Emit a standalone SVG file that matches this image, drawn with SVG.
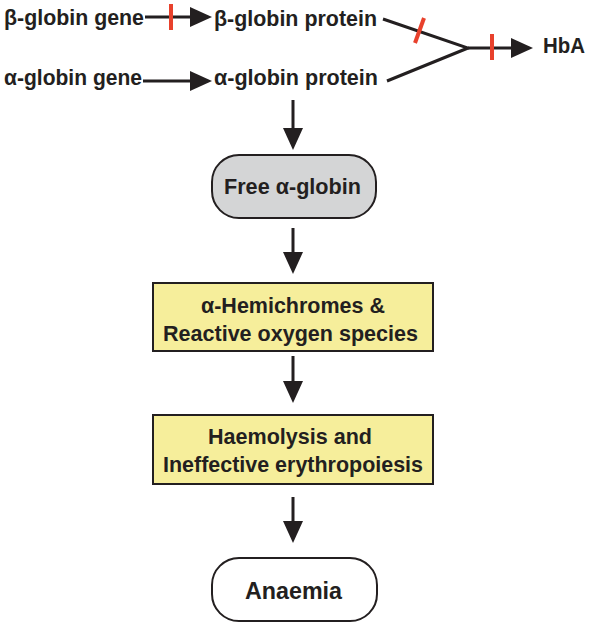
<svg xmlns="http://www.w3.org/2000/svg" width="590" height="625" viewBox="0 0 590 625">
<style>
text{font-family:"Liberation Sans",Arial,sans-serif;font-weight:bold;fill:#231f20}
.t{font-size:22px}
.b{font-size:22.5px;text-anchor:middle}
.c{stroke:#231f20;fill:none;stroke-width:3}
.r{stroke:#e8412c;stroke-width:4;fill:none}
.box{stroke:#231f20;stroke-width:2}
</style>
<defs>
<marker id="ah" viewBox="0 0 22 20" refX="12" refY="10" markerWidth="22" markerHeight="20" markerUnits="userSpaceOnUse" orient="auto"><path d="M0,0 L22,10 L0,20 z" fill="#231f20"/></marker>
</defs>
<rect width="590" height="625" fill="#fff"/>
<g id="connectors">
<line class="c" x1="145" y1="17" x2="202" y2="17" marker-end="url(#ah)"/>
<line class="c" x1="143" y1="81" x2="202" y2="81" marker-end="url(#ah)"/>
<polyline class="c" points="383,19 468,48 387,81" stroke-width="2.8"/>
<line class="c" x1="468" y1="48" x2="523" y2="48" marker-end="url(#ah)"/>
<line class="c" x1="293" y1="100" x2="293" y2="140" marker-end="url(#ah)"/>
<line class="c" x1="293" y1="228" x2="293" y2="264" marker-end="url(#ah)"/>
<line class="c" x1="293" y1="356" x2="293" y2="393" marker-end="url(#ah)"/>
<line class="c" x1="293" y1="497" x2="293" y2="533" marker-end="url(#ah)"/>
<line class="r" x1="171" y1="4" x2="171" y2="30"/>
<line class="r" x1="424" y1="18" x2="415" y2="43"/>
<line class="r" x1="492" y1="34" x2="492" y2="60"/>
</g>
<g id="beta-gene"><text class="t" x="4" y="25" textLength="140" lengthAdjust="spacingAndGlyphs">β-globin gene</text></g>
<g id="beta-protein"><text class="t" x="214" y="26" textLength="163" lengthAdjust="spacingAndGlyphs">β-globin protein</text></g>
<g id="alpha-gene"><text class="t" x="4" y="85" textLength="138" lengthAdjust="spacingAndGlyphs">α-globin gene</text></g>
<g id="alpha-protein"><text class="t" x="214" y="85" textLength="164" lengthAdjust="spacingAndGlyphs">α-globin protein</text></g>
<g id="hba"><text class="t" x="543" y="53" textLength="42" lengthAdjust="spacingAndGlyphs">HbA</text></g>
<g id="free-alpha">
<rect class="box" x="212" y="155" width="164" height="63" rx="27" fill="#d4d5d6"/>
<text class="b" x="292.5" y="194" textLength="137" lengthAdjust="spacingAndGlyphs">Free α-globin</text>
</g>
<g id="hemichromes">
<rect class="box" x="153" y="283" width="280" height="68" fill="#f6ee9b"/>
<text class="b" x="293" y="313" textLength="184" lengthAdjust="spacingAndGlyphs">α-Hemichromes &amp;</text>
<text class="b" x="290.5" y="341" textLength="255" lengthAdjust="spacingAndGlyphs">Reactive oxygen species</text>
</g>
<g id="haemolysis">
<rect class="box" x="153" y="415" width="280" height="69" fill="#f6ee9b"/>
<text class="b" x="290" y="444" textLength="164" lengthAdjust="spacingAndGlyphs">Haemolysis and</text>
<text class="b" x="293" y="472" textLength="260" lengthAdjust="spacingAndGlyphs">Ineffective erythropoiesis</text>
</g>
<g id="anaemia">
<rect class="box" x="212" y="558" width="165" height="63" rx="27" fill="#fff"/>
<text class="b" x="293.5" y="599" style="font-size:24px" textLength="97" lengthAdjust="spacingAndGlyphs">Anaemia</text>
</g>
</svg>
